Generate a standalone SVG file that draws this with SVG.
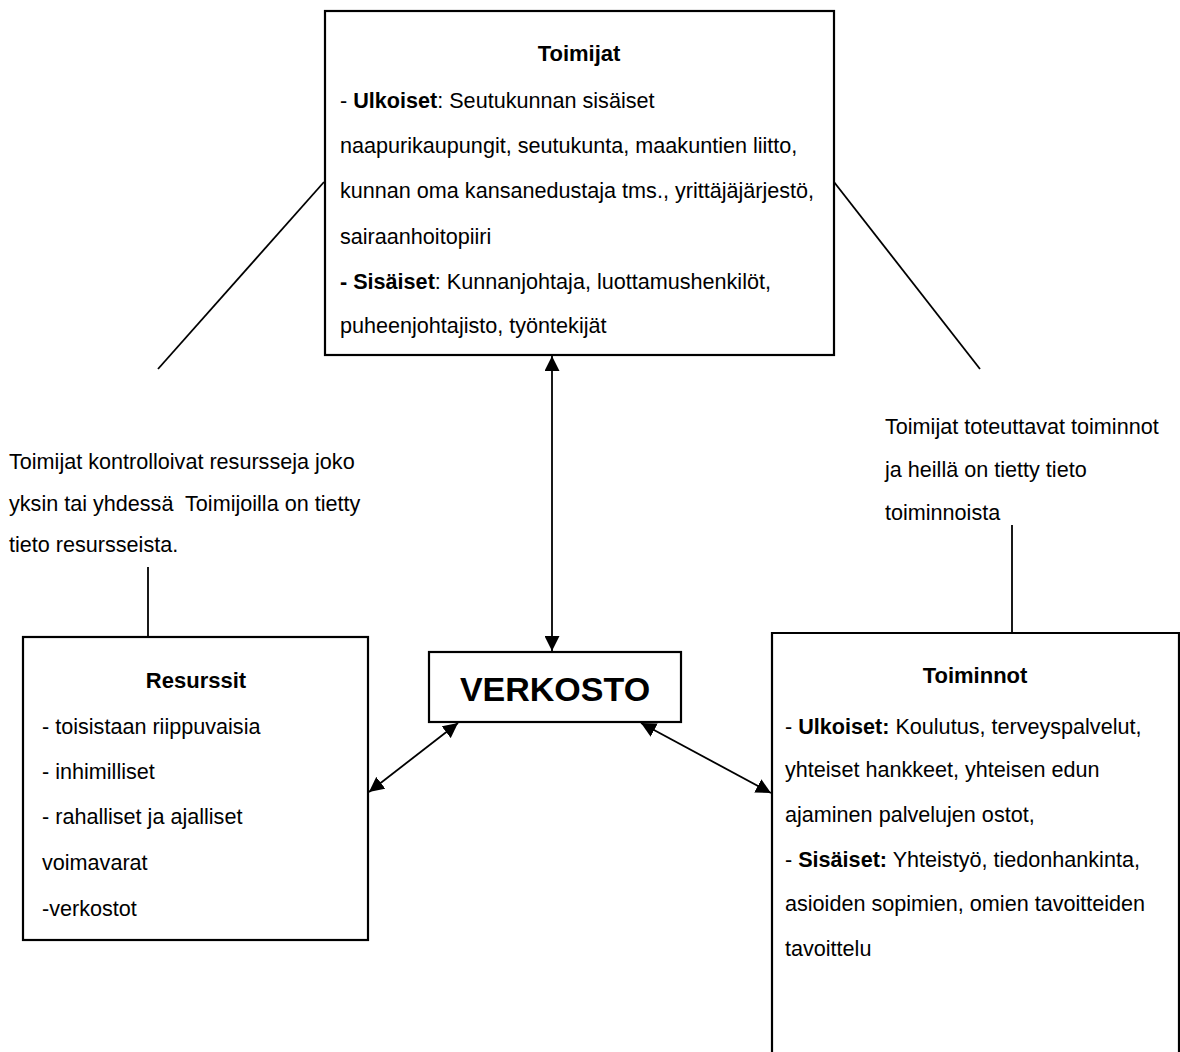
<svg xmlns="http://www.w3.org/2000/svg" width="1180" height="1052" viewBox="0 0 1180 1052">
  <style>
    .box { fill: #fff; stroke: #000; stroke-width: 2.2; }
    .ln { fill: none; stroke: #000; stroke-width: 1.8; }
    .t { font-family: "Liberation Sans", Arial, sans-serif; font-size: 21.6px; fill: #000; }
    .h { font-family: "Liberation Sans", Arial, sans-serif; font-size: 22px; font-weight: bold; fill: #000; }
    .b { font-weight: bold; }
  </style>
  <defs>
    <marker id="ah" viewBox="0 0 10 10" refX="10" refY="5" markerWidth="15" markerHeight="15" markerUnits="userSpaceOnUse" orient="auto-start-reverse">
      <path d="M0,0 L10,5 L0,10 z" fill="#000"/>
    </marker>
  </defs>

  <!-- connectors -->
  <g id="connectors">
    <line class="ln" x1="324" y1="182" x2="158" y2="369"/>
    <line class="ln" x1="834" y1="182" x2="980" y2="369"/>
    <line class="ln" x1="148" y1="567" x2="148" y2="637"/>
    <line class="ln" x1="1012" y1="525" x2="1012" y2="633"/>
    <line class="ln" x1="552" y1="356" x2="552" y2="651" marker-start="url(#ah)" marker-end="url(#ah)"/>
    <line class="ln" x1="369" y1="792" x2="458" y2="723" marker-start="url(#ah)" marker-end="url(#ah)"/>
    <line class="ln" x1="641" y1="723" x2="771" y2="793" marker-start="url(#ah)" marker-end="url(#ah)"/>
  </g>

  <!-- Toimijat -->
  <g id="toimijat">
    <rect class="box" x="325" y="11" width="509" height="344"/>
    <text class="h" x="579" y="61" text-anchor="middle">Toimijat</text>
    <text class="t" x="340" y="108">- <tspan class="b">Ulkoiset</tspan>: Seutukunnan sisäiset</text>
    <text class="t" x="340" y="153">naapurikaupungit, seutukunta, maakuntien liitto,</text>
    <text class="t" x="340" y="198">kunnan oma kansanedustaja tms., yrittäjäjärjestö,</text>
    <text class="t" x="340" y="244">sairaanhoitopiiri</text>
    <text class="t" x="340" y="289"><tspan class="b">- Sisäiset</tspan>: Kunnanjohtaja, luottamushenkilöt,</text>
    <text class="t" x="340" y="333">puheenjohtajisto, työntekijät</text>
  </g>

  <!-- note left -->
  <g id="note-resurssit">
    <text class="t" x="9" y="469">Toimijat kontrolloivat resursseja joko</text>
    <text class="t" x="9" y="511" xml:space="preserve">yksin tai yhdessä  Toimijoilla on tietty</text>
    <text class="t" x="9" y="552">tieto resursseista.</text>
  </g>

  <!-- note right -->
  <g id="note-toiminnot">
    <text class="t" x="885" y="434">Toimijat toteuttavat toiminnot</text>
    <text class="t" x="885" y="477">ja heillä on tietty tieto</text>
    <text class="t" x="885" y="520">toiminnoista</text>
  </g>

  <!-- VERKOSTO -->
  <g id="verkosto">
    <rect class="box" x="429" y="652" width="252" height="70"/>
    <text class="h" x="555" y="701" text-anchor="middle" style="font-size:34px">VERKOSTO</text>
  </g>

  <!-- Resurssit -->
  <g id="resurssit">
    <rect class="box" x="23" y="637" width="345" height="303"/>
    <text class="h" x="196" y="688" text-anchor="middle">Resurssit</text>
    <text class="t" x="42" y="734">- toisistaan riippuvaisia</text>
    <text class="t" x="42" y="779">- inhimilliset</text>
    <text class="t" x="42" y="824">- rahalliset ja ajalliset</text>
    <text class="t" x="42" y="870">voimavarat</text>
    <text class="t" x="42" y="916">-verkostot</text>
  </g>

  <!-- Toiminnot -->
  <g id="toiminnot">
    <path class="box" d="M772,1060 L772,633 L1179,633 L1179,1060"/>
    <text class="h" x="975" y="683" text-anchor="middle">Toiminnot</text>
    <text class="t" x="785" y="734">- <tspan class="b">Ulkoiset:</tspan> Koulutus, terveyspalvelut,</text>
    <text class="t" x="785" y="777">yhteiset hankkeet, yhteisen edun</text>
    <text class="t" x="785" y="822">ajaminen palvelujen ostot,</text>
    <text class="t" x="785" y="867">- <tspan class="b">Sisäiset:</tspan> Yhteistyö, tiedonhankinta,</text>
    <text class="t" x="785" y="911">asioiden sopimien, omien tavoitteiden</text>
    <text class="t" x="785" y="956">tavoittelu</text>
  </g>
</svg>
